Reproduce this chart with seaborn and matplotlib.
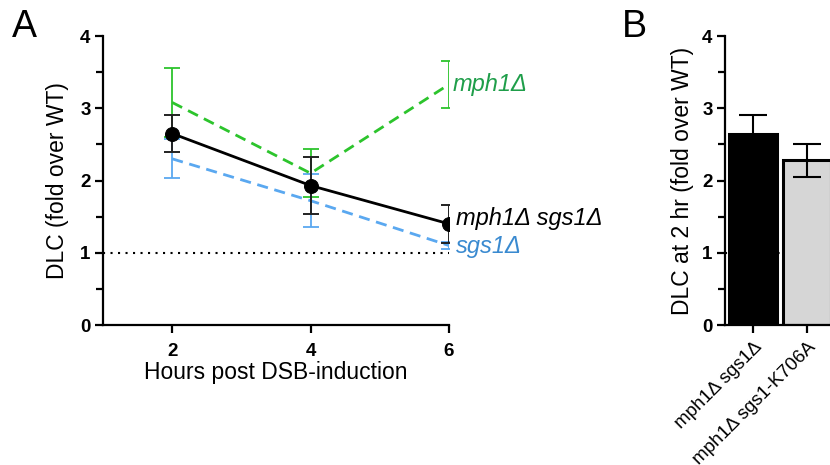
import matplotlib
matplotlib.use("Agg")
import matplotlib.pyplot as plt
import numpy as np
import pandas as pd
import seaborn as sns
from matplotlib.ticker import MultipleLocator

# ---- data ----
hours = [2, 4, 6]
dbl_mean = [2.65, 1.93, 1.40]      # mph1Δ sgs1Δ
dbl_err = [0.26, 0.39, 0.26]
mph1_mean = [3.08, 2.10, 3.33]     # mph1Δ
mph1_err = [0.48, 0.33, 0.33]
sgs1_mean = [2.30, 1.72, 1.10]     # sgs1Δ
sgs1_err = [0.27, 0.37, 0.05]

bar_labels = ["mph1Δ sgs1Δ", "mph1Δ sgs1-K706A"]
bar_means = [2.65, 2.28]
bar_errs = [0.26, 0.23]

yticks = [0, 1, 2, 3, 4]
xticks = [2, 4, 6]

sns.set_style("ticks")
plt.rcParams['font.family'] = ['Liberation Sans', 'DejaVu Sans']
for k in ['text.color', 'axes.labelcolor', 'axes.edgecolor', 'xtick.color', 'ytick.color']:
    plt.rcParams[k] = 'black'
plt.rcParams['axes.linewidth'] = 1.6
plt.rcParams['xtick.major.width'] = 1.6
plt.rcParams['ytick.major.width'] = 1.6
plt.rcParams['ytick.minor.width'] = 1.6
plt.rcParams['xtick.major.size'] = 6
plt.rcParams['ytick.major.size'] = 6
plt.rcParams['ytick.minor.size'] = 5

W, H = 830, 465
fig = plt.figure(figsize=(W / 100, H / 100), dpi=100)

def px_axes(l, t, r, b):
    return fig.add_axes([l / W, 1 - b / H, (r - l) / W, (b - t) / H])

GREEN_L = "#2cc42c"
GREEN_T = "#1f9e4a"
BLUE_L = "#5aa8f0"
BLUE_T = "#3a8ad0"

# ---- Panel A ----
axA = px_axes(103, 36, 449, 325)
df = pd.DataFrame({
    "hours": hours * 3,
    "dlc": mph1_mean + sgs1_mean + dbl_mean,
    "strain": ["mph1"] * 3 + ["sgs1"] * 3 + ["dbl"] * 3,
})
axA.axhline(1, color="black", linestyle=(0, (1, 2.6)), lw=1.5, zorder=1)

for key, mean, err, lc, ec in [("mph1", mph1_mean, mph1_err, GREEN_L, GREEN_L),
                               ("sgs1", sgs1_mean, sgs1_err, BLUE_L, BLUE_L)]:
    axA.errorbar(hours, mean, yerr=err, fmt='none', ecolor=ec, elinewidth=1.3,
                 capsize=6, capthick=1.3, zorder=2)
    sns.lineplot(data=df[df.strain == key], x="hours", y="dlc", color=lc,
                 linestyle=(0, (4, 2.4)), lw=2.0, ax=axA, zorder=3, legend=False)

axA.errorbar(hours, dbl_mean, yerr=dbl_err, fmt='none', ecolor="#222222",
             elinewidth=1.4, capsize=6, capthick=1.4, zorder=4)
sns.lineplot(data=df[df.strain == "dbl"], x="hours", y="dlc", color="black",
             lw=2.0, marker="o", markersize=10, markeredgecolor="black",
             ax=axA, zorder=5, legend=False)

axA.set_xlim(1, 6)
axA.set_ylim(0, 4)
axA.set_xticks(xticks)
axA.set_yticks(yticks)
axA.yaxis.set_minor_locator(MultipleLocator(0.5))
axA.tick_params(axis='y', labelsize=13.5, pad=3)
axA.tick_params(axis='x', labelsize=13.5, pad=7)
for lab in axA.get_xticklabels() + axA.get_yticklabels():
    lab.set_fontweight('bold')
axA.set_xlabel("Hours post DSB-induction", fontsize=16.5, labelpad=1)
axA.set_ylabel("DLC (fold over WT)", fontsize=16.5, labelpad=8)
sns.despine(ax=axA)
axA.spines['bottom'].set_bounds(1, 6)

axA.text(6.05, 3.33, "mph1Δ", color=GREEN_T, fontsize=17, style='italic',
         va='center', ha='left', clip_on=False)
axA.text(6.1, 1.47, "mph1Δ sgs1Δ", color="black", fontsize=17, style='italic',
         va='center', ha='left', clip_on=False)
axA.text(6.1, 1.09, "sgs1Δ", color=BLUE_T, fontsize=17, style='italic',
         va='center', ha='left', clip_on=False)

# ---- Panel B ----
axB = px_axes(725, 36, 880, 325)
dfb = pd.DataFrame({"strain": bar_labels, "dlc": bar_means})
axB.axhline(1, color="black", linestyle=(0, (1, 2.6)), lw=1.5, zorder=0)
sns.barplot(data=dfb, x="strain", y="dlc", hue="strain",
            palette=["black", "#d6d6d6"], edgecolor="black", linewidth=2.2,
            width=0.9, legend=False, ax=axB, zorder=2)
axB.errorbar(range(len(bar_means)), bar_means, yerr=bar_errs, fmt='none',
             ecolor="black", elinewidth=1.5, capsize=10, capthick=1.5, zorder=3)
axB.set_xlim(-0.52, (880 - 753) / 54)
axB.set_ylim(0, 4)
axB.set_yticks(yticks)
axB.yaxis.set_minor_locator(MultipleLocator(0.5))
axB.tick_params(axis='y', labelsize=13.5, pad=3)
for lab in axB.get_yticklabels():
    lab.set_fontweight('bold')
axB.set_xlabel("")
axB.set_ylabel("DLC at 2 hr (fold over WT)", fontsize=16.5, labelpad=6)
axB.set_xticks(range(len(bar_labels)))
axB.set_xticklabels(bar_labels, rotation=45, ha='right', rotation_mode='anchor',
                    fontsize=13.5)
axB.tick_params(axis='x', pad=4)
sns.despine(ax=axB)

fig.text(12 / W, 1 - 37 / H, "A", fontsize=27, va='baseline', ha='left')
fig.text(622 / W, 1 - 37 / H, "B", fontsize=27, va='baseline', ha='left')

fig.savefig("out.png", dpi=100)
